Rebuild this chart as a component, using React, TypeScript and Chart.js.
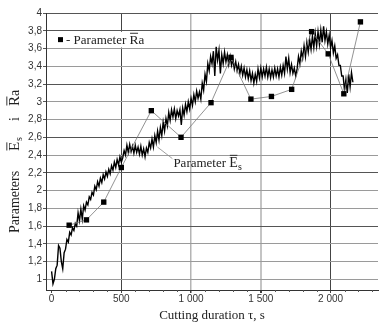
import React, { useEffect, useRef } from 'react';
import { Chart, registerables } from 'chart.js';

Chart.register(...registerables);

// Parameter Es (continuous measurement), time in s
const esTime = [
  0, 10, 20, 30, 40, 50, 60, 70, 80, 90,
  100, 110, 120, 130, 140, 150, 160, 170, 180, 190,
  200, 210, 220, 230, 240, 250, 260, 270, 280, 290,
  300, 310, 320, 330, 340, 350, 360, 370, 380, 390,
  400, 410, 420, 430, 440, 450, 460, 470, 480, 490,
  500, 510, 520, 530, 540, 550, 560, 570, 580, 590,
  600, 610, 620, 630, 640, 650, 660, 670, 680, 690,
  700, 710, 720, 730, 740, 750, 760, 770, 780, 790,
  800, 810, 820, 830, 840, 850, 860, 870, 880, 890,
  900, 910, 920, 930, 940, 950, 960, 970, 980, 990,
  1000, 1010, 1020, 1030, 1040, 1050, 1060, 1070, 1080, 1090,
  1100, 1110, 1120, 1130, 1140, 1150, 1160, 1170, 1180, 1190,
  1200, 1210, 1220, 1230, 1240, 1250, 1260, 1270, 1280, 1290,
  1300, 1310, 1320, 1330, 1340, 1350, 1360, 1370, 1380, 1390,
  1400, 1410, 1420, 1430, 1440, 1450, 1460, 1470, 1480, 1490,
  1500, 1510, 1520, 1530, 1540, 1550, 1560, 1570, 1580, 1590,
  1600, 1610, 1620, 1630, 1640, 1650, 1660, 1670, 1680, 1690,
  1700, 1710, 1720, 1730, 1740, 1750, 1760, 1770, 1780, 1790,
  1800, 1810, 1820, 1830, 1840, 1850, 1860, 1870, 1880, 1890,
  1900, 1910, 1920, 1930, 1940, 1950, 1960, 1970, 1980, 1990,
  2000, 2010, 2020, 2030, 2040, 2050, 2060, 2070, 2080, 2090,
  2100, 2110, 2120, 2130, 2140, 2150, 2160,
];
const esValue = [
  1.09, 0.95, 1.00, 1.12, 1.16, 1.38, 1.35, 1.20, 1.12, 1.30,
  1.34, 1.45, 1.42, 1.53, 1.50, 1.58, 1.55, 1.63, 1.60, 1.75,
  1.66, 1.79, 1.68, 1.83, 1.78, 1.87, 1.84, 1.93, 1.90, 1.98,
  1.95, 2.05, 2.01, 2.10, 2.05, 2.14, 2.09, 2.18, 2.13, 2.21,
  2.16, 2.24, 2.19, 2.28, 2.23, 2.32, 2.26, 2.35, 2.29, 2.38,
  2.32, 2.37, 2.45, 2.40, 2.51, 2.43, 2.52, 2.44, 2.50, 2.42,
  2.51, 2.43, 2.49, 2.41, 2.50, 2.40, 2.47, 2.38, 2.48, 2.43,
  2.54, 2.48, 2.58, 2.49, 2.62, 2.54, 2.67, 2.57, 2.71, 2.62,
  2.77, 2.67, 2.81, 2.73, 2.88, 2.79, 2.91, 2.83, 2.92, 2.81,
  2.90, 2.84, 2.91, 2.74, 2.93, 2.85, 2.97, 2.89, 3.00, 2.92,
  3.04, 2.96, 3.08, 3.00, 3.12, 3.04, 3.11, 3.03, 3.21, 3.13,
  3.31, 3.23, 3.43, 3.35, 3.51, 3.43, 3.57, 3.29, 3.62, 3.47,
  3.58, 3.32, 3.53, 3.43, 3.56, 3.45, 3.53, 3.42, 3.51, 3.41,
  3.48, 3.37, 3.45, 3.35, 3.42, 3.32, 3.40, 3.30, 3.38, 3.28,
  3.36, 3.26, 3.35, 3.24, 3.32, 3.21, 3.31, 3.23, 3.37, 3.27,
  3.38, 3.28, 3.37, 3.29, 3.39, 3.28, 3.37, 3.27, 3.36, 3.28,
  3.38, 3.29, 3.37, 3.28, 3.39, 3.30, 3.41, 3.32, 3.51, 3.37,
  3.49, 3.33, 3.42, 3.32, 3.38, 3.29, 3.37, 3.51, 3.43, 3.57,
  3.49, 3.63, 3.51, 3.67, 3.56, 3.70, 3.59, 3.74, 3.61, 3.77,
  3.63, 3.79, 3.65, 3.81, 3.67, 3.85, 3.69, 3.79, 3.65, 3.75,
  3.61, 3.69, 3.55, 3.63, 3.49, 3.53, 3.41, 3.41, 3.29, 3.29,
  3.13, 3.25, 3.10, 3.31, 3.17, 3.33, 3.22,
];

// Parameter Ra (discrete measurements)
const raTime = [126, 250, 374, 500, 715, 928, 1143, 1286, 1429, 1576, 1721, 1864, 1983, 2095, 2214];
const raValue = [1.61, 1.67, 1.87, 2.26, 2.90, 2.60, 2.99, 3.50, 3.03, 3.06, 3.14, 3.79, 3.54, 3.09, 3.90];

const xTickValues = [0, 500, 1000, 1500, 2000];
const xTickLabels = ['0', '500', '1 000', '1 500', '2 000'];
const yTickValues = [1, 1.2, 1.4, 1.6, 1.8, 2, 2.2, 2.4, 2.6, 2.8, 3, 3.2, 3.4, 3.6, 3.8, 4];
const yTickLabels = ['1', '1,2', '1,4', '1,6', '1,8', '2', '2,2', '2,4', '2,6', '2,8', '3', '3,2', '3,4', '3,6', '3,8', '4'];
const xMinorStep = 100;

const SERIF = '"Liberation Serif", "Times New Roman", serif';
const SANS = '"Liberation Sans", Arial, sans-serif';

type Part = { text: string; size: number; at?: number; dy?: number; overline?: boolean };

function drawParts(ctx: CanvasRenderingContext2D, parts: Part[], x0: number, y0: number) {
  let x = x0;
  for (const p of parts) {
    ctx.font = `${p.size}px ${SERIF}`;
    const px = p.at !== undefined ? x0 + p.at : x;
    const w = ctx.measureText(p.text).width;
    ctx.fillText(p.text, px, y0 + (p.dy || 0));
    if (p.overline) {
      ctx.fillRect(px + 0.5, y0 + (p.dy || 0) - p.size * 0.84, w - 1, 0.9);
    }
    x = px + w;
  }
}

const decorPlugin = {
  id: 'decor',
  afterDraw(chart: any) {
    const ctx: CanvasRenderingContext2D = chart.ctx;
    const xs = chart.scales.x;
    const ys = chart.scales.y;
    ctx.save();

    // minor ticks below x axis
    const axisY = chart.chartArea.bottom;
    ctx.strokeStyle = '#555';
    ctx.lineWidth = 1;
    for (let v = 0; v <= 2300; v += xMinorStep) {
      if (v % 500 === 0) continue;
      const px = Math.round(xs.getPixelForValue(v)) + 0.5;
      ctx.beginPath();
      ctx.moveTo(px, axisY);
      ctx.lineTo(px, axisY + 2);
      ctx.stroke();
    }

    // legend box
    const lTop = ys.getPixelForValue(3.8) + 1;
    const lBot = ys.getPixelForValue(3.6) - 1;
    const left = chart.chartArea.left + 1;
    ctx.fillStyle = '#fff';
    ctx.fillRect(left, lTop, 104, lBot - lTop);
    const cy = (lTop + lBot) / 2;
    ctx.fillStyle = '#000';
    ctx.fillRect(left + 11, cy - 2.5, 5, 5);
    ctx.fillStyle = '#222';
    ctx.textBaseline = 'alphabetic';
    drawParts(ctx, [
      { text: '- Parameter ', size: 13 },
      { text: 'R', size: 13.5, overline: true },
      { text: 'a', size: 13 },
    ], left + 19, cy + 4.5);

    // annotation for Es
    const a0x = xs.getPixelForValue(759);
    const a0y = ys.getPixelForValue(2.49);
    const a1x = xs.getPixelForValue(866);
    const a1y = ys.getPixelForValue(2.36);
    ctx.strokeStyle = '#888';
    ctx.lineWidth = 0.8;
    ctx.beginPath();
    ctx.moveTo(a0x, a0y);
    ctx.lineTo(a1x, a1y);
    ctx.stroke();
    ctx.fillStyle = '#222';
    drawParts(ctx, [
      { text: 'Parameter ', size: 13 },
      { text: 'E', size: 14, overline: true },
      { text: 's', size: 10, dy: 3 },
    ], a1x + 1, a1y + 8);

    // y axis title
    ctx.translate(19, 233);
    ctx.rotate(-Math.PI / 2);
    ctx.fillStyle = '#222';
    drawParts(ctx, [
      { text: 'Parameters', size: 14, at: 0 },
      { text: 'E', size: 15, at: 82, overline: true },
      { text: 's', size: 10, at: 92, dy: 3 },
      { text: 'i', size: 14, at: 112 },
      { text: 'R', size: 15, at: 127, overline: true },
      { text: 'a', size: 14, at: 137 },
    ], 0, 0);
    ctx.restore();
  },
};

export default function App() {
  const ref = useRef<HTMLCanvasElement | null>(null);

  useEffect(() => {
    if (!ref.current) return;
    const chart = new Chart(ref.current, {
      type: 'line',
      data: {
        datasets: [
          {
            label: 'Parameter Ra',
            data: raTime.map((t, i) => ({ x: t, y: raValue[i] })),
            borderColor: '#777',
            borderWidth: 0.8,
            pointStyle: 'rect',
            pointRadius: 3.8,
            pointBackgroundColor: '#000',
            pointBorderColor: '#000',
            pointBorderWidth: 0,
            tension: 0,
          },
          {
            label: 'Parameter Es',
            data: esTime.map((t, i) => ({ x: t, y: esValue[i] })),
            borderColor: '#000',
            borderWidth: 1.4,
            pointRadius: 0,
            tension: 0,
          },
        ],
      },
      options: {
        animation: false,
        responsive: false,
        maintainAspectRatio: false,
        layout: { padding: { top: 13, right: 2, left: 0, bottom: 0 } },
        plugins: { legend: { display: false }, tooltip: { enabled: false } },
        scales: {
          x: {
            type: 'linear',
            min: -40,
            max: 2340,
            afterBuildTicks: (s: any) => {
              s.ticks = xTickValues.map((v) => ({ value: v }));
            },
            afterFit: (s: any) => {
              s.height = 33;
            },
            ticks: {
              autoSkip: false,
              maxRotation: 0,
              padding: 0,
              color: '#333',
              font: { family: SANS, size: 10 },
              callback: (_v: any, i: number) => xTickLabels[i],
            },
            grid: {
              color: (c: any) => {
                const v = c.tick?.value;
                if (v === 0) return 'rgba(0,0,0,0)';
                if (v === 1000) return '#b4b4b4';
                if (v === 1500) return '#c4c4c4';
                return '#444';
              },
              lineWidth: (c: any) => {
                const v = c.tick?.value;
                if (v === 1000) return 1.5;
                if (v === 1500) return 2;
                return 1;
              },
              tickColor: '#444',
              tickLength: 3,
            },
            border: { color: '#333', width: 1 },
            title: {
              display: true,
              text: 'Cutting duration τ, s',
              color: '#222',
              font: { family: SERIF, size: 13 },
              padding: { top: 0, bottom: 0 },
            },
          },
          y: {
            type: 'linear',
            min: 0.88,
            max: 4,
            afterBuildTicks: (s: any) => {
              s.ticks = yTickValues.map((v) => ({ value: v }));
            },
            afterFit: (s: any) => {
              s.width = 46;
            },
            ticks: {
              autoSkip: false,
              padding: 1,
              color: '#333',
              font: { family: SANS, size: 10 },
              callback: (_v: any, i: number) => yTickLabels[i],
            },
            grid: {
              color: (c: any) => {
                const v = Math.round((c.tick?.value ?? 0) * 10) / 10;
                if ([4, 3.8, 3.2, 2.6, 2.2, 1.6].includes(v)) return '#555';
                return '#9a9a9a';
              },
              lineWidth: 1,
              tickColor: '#555',
              tickLength: 3,
            },
            border: { color: '#333', width: 1 },
          },
        },
      },
      plugins: [decorPlugin],
    } as any);
    return () => chart.destroy();
  }, []);

  return (
    <div style={{ position: 'absolute', left: 0, top: 0, width: 382, height: 323, background: '#fff' }}>
      <canvas ref={ref} width={382} height={323} />
    </div>
  );
}
